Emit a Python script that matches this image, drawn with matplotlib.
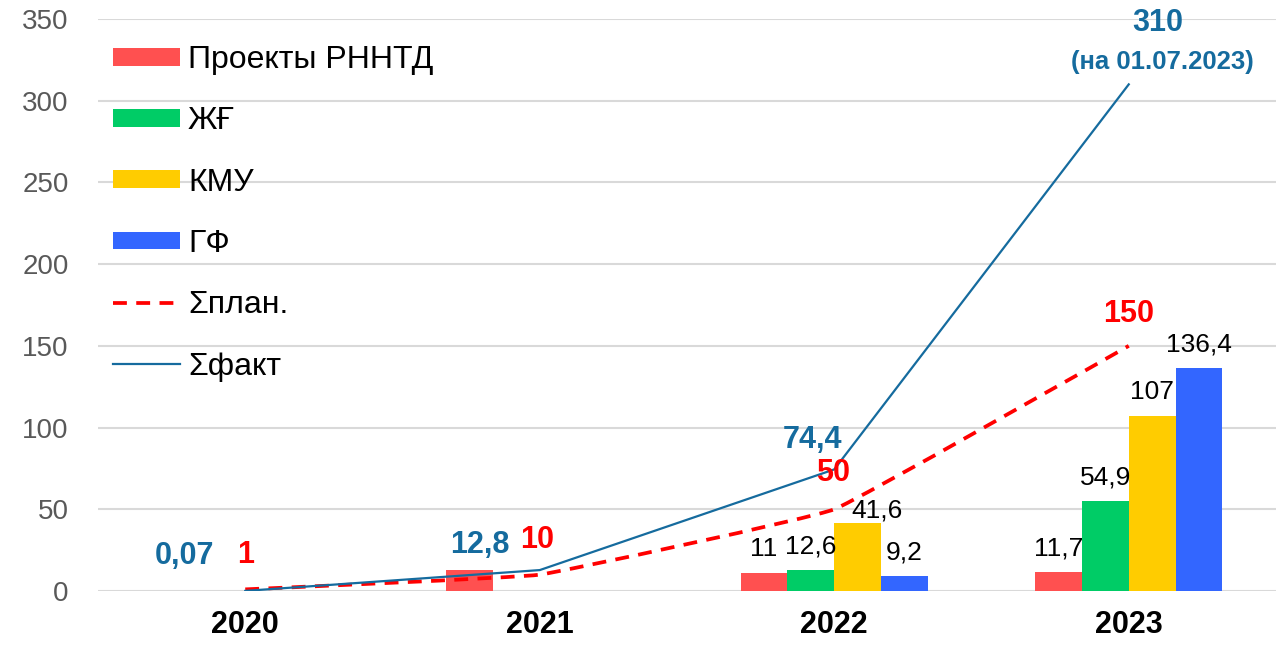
import numpy as np
import matplotlib
matplotlib.use("Agg")
import matplotlib.pyplot as plt
from matplotlib.path import Path
from matplotlib.patches import PathPatch
from matplotlib.lines import Line2D

plt.rcParams["font.family"] = ["Liberation Sans", "DejaVu Sans"]

# данные
years = ["2020", "2021", "2022", "2023"]
rnntd = [0, 12.8, 11, 11.7]
zhf = [0, 0, 12.6, 54.9]
kmu = [0, 0, 41.6, 107]
gf = [0, 0, 9.2, 136.4]
plan = [1, 10, 50, 150]
fact = [0.07, 12.8, 74.4, 310]

series_names = ["Проекты РННТД", "ЖҒ", "КМУ", "ГФ"]
bar_colors = ["#FF5050", "#00CC66", "#FFCC00", "#3366FF"]
fact_color = "#156B9E"
plan_color = "#FF0000"


def fmt(v):
    return f"{v:g}".replace(".", ",")


def smooth_path(xs, ys, k=0.1):
    # сглаженная линия как в Excel (кривые Безье через точки)
    pts = list(zip(xs, ys))
    n = len(pts)
    verts = [pts[0]]
    codes = [Path.MOVETO]
    for i in range(n - 1):
        p0 = pts[max(i - 1, 0)]
        p1 = pts[i]
        p2 = pts[i + 1]
        p3 = pts[min(i + 2, n - 1)]
        c1 = (p1[0] + k * (p2[0] - p0[0]), p1[1] + k * (p2[1] - p0[1]))
        c2 = (p2[0] - k * (p3[0] - p1[0]), p2[1] - k * (p3[1] - p1[1]))
        verts += [c1, c2, p2]
        codes += [Path.CURVE4] * 3
    return Path(verts, codes)


fig = plt.figure(figsize=(12.76, 6.45), dpi=100)
ax = fig.add_axes([98 / 1276, 54 / 645, 1178 / 1276, 572 / 645])

x = np.arange(len(years))
w = 0.159
offsets = [-1.5, -0.5, 0.5, 1.5]
bars = []
for vals, off, col, name in zip([rnntd, zhf, kmu, gf], offsets, bar_colors, series_names):
    b = ax.bar(x + off * w, vals, w, color=col, label=name, zorder=2)
    bars.append(b)

# подписи столбцов (только 2022 и 2023)
for vals, off in zip([rnntd, zhf, kmu, gf], offsets):
    for i in range(2, len(years)):
        dx = 14 if (vals is kmu and i == 2) else 0
        dy = 4 if (vals is kmu and i == 2) else 12
        ax.annotate(fmt(vals[i]), (x[i] + off * w, vals[i]), xytext=(dx, dy),
                    textcoords="offset points", ha="center", va="baseline",
                    fontsize=19, color="black", zorder=5)

# линии
plan_patch = PathPatch(smooth_path(x, plan, k=0.04), fill=False, edgecolor=plan_color,
                       lw=2.7, linestyle=(0, (3.7, 2.5)), zorder=3)
ax.add_patch(plan_patch)
ax.plot(x, fact, color=fact_color, lw=1.6, zorder=4)

# подписи линий
fact_off = [(-44, 25), (-43, 18), (-16, 21), (21, 44)]
plan_off = [(0, 25), (-2, 25), (-1, 26), (0, 23)]
for i in range(len(years)):
    ax.annotate(fmt(fact[i]), (x[i], fact[i]), xytext=fact_off[i], textcoords="offset points",
                ha="center", va="center", fontsize=22, fontweight="bold", color=fact_color, zorder=6)
    ax.annotate(fmt(plan[i]), (x[i], plan[i]), xytext=plan_off[i], textcoords="offset points",
                ha="center", va="center", fontsize=22, fontweight="bold", color=plan_color, zorder=6)
ax.annotate("(на 01.07.2023)", (x[3], fact[3]), xytext=(24, 16), textcoords="offset points",
            ha="center", va="center", fontsize=18.5, fontweight="bold", color=fact_color, zorder=6)

ax.set_xlim(-0.5, 3.5)
ax.set_ylim(0, 350)
ax.set_yticks(np.arange(0, 351, 50))
ax.set_xticks(x)
ax.set_xticklabels(years, fontsize=22, fontweight="bold")
ax.tick_params(axis="x", length=0, pad=14)
ax.tick_params(axis="y", length=0, pad=21, labelsize=20, labelcolor="#595959")
ax.yaxis.grid(True, color="#D9D9D9", lw=1.5, zorder=0)
ax.set_axisbelow(True)
for s in ax.spines.values():
    s.set_visible(False)

handles = bars + [
    Line2D([], [], color=plan_color, lw=2.7, linestyle=(0, (3.7, 2.5))),
    Line2D([], [], color=fact_color, lw=1.6),
]
labels = series_names + ["Σплан.", "Σфакт"]
fig.legend(handles, labels, loc="upper left", bbox_to_anchor=(113 / 1276, 1 - 45 / 645),
           frameon=False, fontsize=23, handlelength=2.1, handleheight=0.48,
           handletextpad=0.25, labelspacing=0.98, borderpad=0, borderaxespad=0)

fig.savefig("out.png", dpi=100)
